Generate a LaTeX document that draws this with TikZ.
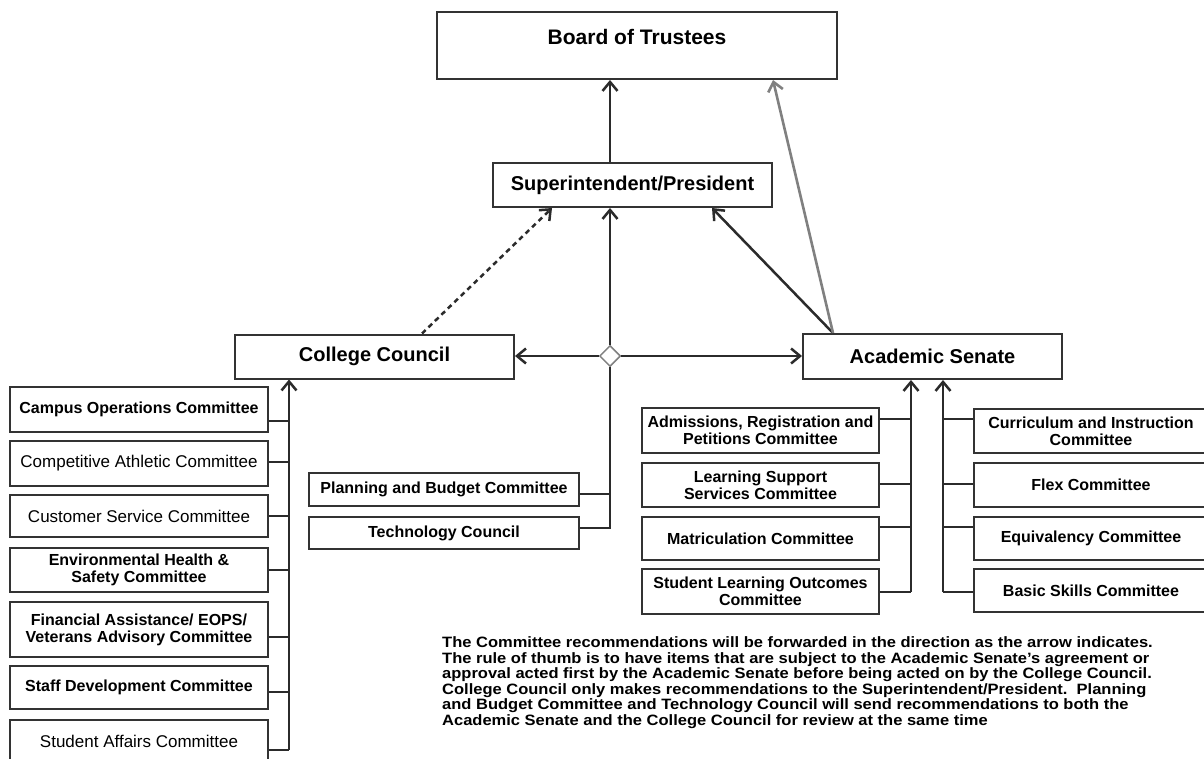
\documentclass[tikz,border=0pt]{standalone}
\usepackage{fontspec}
\setmainfont{Liberation Sans}
\usetikzlibrary{arrows.meta,shapes.geometric}
\definecolor{linec}{HTML}{2B2B2B}
\definecolor{boxc}{HTML}{333333}
\definecolor{grayl}{HTML}{808080}
\begin{document}
\begin{tikzpicture}[x=1pt,y=-1pt,
  conn/.style={line width=2.5pt, draw=linec},
  arr/.style={conn,-{Straight Barb[length=9pt,width=15pt]}},
  grayarr/.style={line width=2.6pt, draw=grayl,-{Straight Barb[length=9pt,width=15pt]}},
  mainbox/.style={draw=boxc,line width=2pt,fill=white,inner sep=2pt,font=\bfseries\fontsize{20}{24}\selectfont},
  boldbox/.style={draw=boxc,line width=2.6pt,fill=white,inner sep=1pt,align=center,font=\bfseries\fontsize{16}{17}\selectfont},
  thinbox/.style={draw=boxc,line width=1.2pt,fill=white,inner sep=1pt,align=center,font=\fontsize{17}{19}\selectfont},
  leftbox/.style={minimum width=258pt},
  asleft/.style={minimum width=237pt},
  asright/.style={minimum width=234pt},
  notetext/.style={anchor=base west,inner sep=0pt,font=\bfseries\fontsize{15}{15.6}\selectfont}
]
\useasboundingbox (0,0) rectangle (1204,759);
\clip (0,0) rectangle (1204,759);
\fill[white] (0,0) rectangle (1204,759);

% main boxes
\node[mainbox, minimum width=400pt, minimum height=67pt, text height=15pt, text depth=17pt, font=\bfseries\fontsize{21}{24}\selectfont] (bot) at (637,45.5) {Board of Trustees};
\node[mainbox, minimum width=279pt, minimum height=44pt] (sup) at (632.5,185) {Superintendent/President};
\node[mainbox, minimum width=279pt, minimum height=44pt] (cc) at (374.5,356.5) {College Council};
\node[mainbox, minimum width=259pt, minimum height=45pt] (as) at (932.5,356.5) {Academic Senate};
\node[diamond, draw=grayl, fill=white, line width=1.5pt, minimum width=21pt, minimum height=21pt, inner sep=0pt] (dia) at (610,356) {};

% left column
\node[boldbox, leftbox, minimum height=45pt] (campus) at (139,409.5) {Campus Operations Committee};
\node[thinbox, leftbox, minimum height=45pt] (compet) at (139,463.5) {Competitive Athletic Committee};
\node[thinbox, leftbox, minimum height=42pt] (cust) at (139,516) {Customer Service Committee};
\node[boldbox, leftbox, minimum height=44pt] (env) at (139,570) {Environmental Health \&\\Safety Committee};
\node[boldbox, leftbox, minimum height=55pt] (fin) at (139,629.5) {Financial Assistance/ EOPS/\\Veterans Advisory Committee};
\node[boldbox, leftbox, minimum height=43pt] (staff) at (139,687.5) {Staff Development Committee};
\node[thinbox, leftbox, minimum height=42pt] (stuaff) at (139,741) {Student Affairs Committee};

% middle
\node[boldbox, minimum width=270pt, minimum height=33pt] (plan) at (444,489.5) {Planning and Budget Committee};
\node[boldbox, minimum width=270pt, minimum height=32pt] (tech) at (444,533) {Technology Council};

% academic senate left
\node[boldbox, asleft, minimum height=45pt] (adm) at (760.5,430.5) {Admissions, Registration and\\Petitions Committee};
\node[boldbox, asleft, minimum height=44pt] (lss) at (760.5,485) {Learning Support\\Services Committee};
\node[boldbox, asleft, minimum height=43pt] (mat) at (760.5,538.5) {Matriculation Committee};
\node[boldbox, asleft, minimum height=45pt] (slo) at (760.5,591.5) {Student Learning Outcomes\\Committee};

% academic senate right
\node[boldbox, asright, minimum height=44pt] (cur) at (1091,431) {Curriculum and Instruction\\Committee};
\node[boldbox, asright, minimum height=44pt] (flex) at (1091,485) {Flex Committee};
\node[boldbox, asright, minimum height=43pt] (equ) at (1091,538.5) {Equivalency Committee};
\node[boldbox, asright, minimum height=43pt] (bas) at (1091,590.5) {Basic Skills Committee};

% left bus
\coordinate (lbus) at (289,0);
\foreach \n/\o in {campus/-11.5, compet/1.5, cust/0, env/0, fin/-7.5, staff/-4.5}{
  \coordinate (t) at ([yshift=\o pt]\n.east);
  \draw[conn] (t) -- (t -| lbus);
}
\coordinate (lbot) at ([yshift=-9pt]stuaff.east);
\draw[conn] (lbot) -- (lbot -| lbus);
\draw[arr] (lbot -| lbus) -- (cc.south -| lbus);

% middle bus
\coordinate (pl) at ([yshift=-4.5pt]plan.east);
\coordinate (te) at ([yshift=5pt]tech.east);
\draw[conn] (pl) -- (pl -| dia);
\draw[conn] (te) -- (te -| dia) -- (dia.south);
\draw[arr] (dia.north) -- (dia |- sup.south);
\draw[arr] (dia.west) -- (cc.east |- dia);
\draw[arr] (dia.east) -- (as.west |- dia);

% academic senate buses
\coordinate (abus) at ([xshift=-21.5pt]as.south);
\coordinate (bbus) at ([xshift=10.5pt]as.south);
\foreach \n/\o in {adm/11.5, lss/1, mat/11.5}{
  \coordinate (t) at ([yshift=\o pt]\n.east);
  \draw[conn] (t) -- (t -| abus);
}
\coordinate (sl) at ([yshift=-0.5pt]slo.east);
\draw[conn] (sl) -- (sl -| abus);
\draw[arr] (sl -| abus) -- (abus);
\foreach \n/\o in {cur/12, flex/1, equ/11.5}{
  \coordinate (t) at ([yshift=\o pt]\n.west);
  \draw[conn] (t) -- (t -| bbus);
}
\coordinate (bs) at ([yshift=-1.5pt]bas.west);
\draw[conn] (bs) -- (bs -| bbus);
\draw[arr] (bs -| bbus) -- (bbus);

% upper connectors
\draw[arr] (sup.north -| dia) -- (bot.south -| dia);
\coordinate (asj) at ([xshift=-99.5pt]as.north);
\draw[arr] (asj) -- ([xshift=79.5pt]sup.south);
\draw[grayarr] (asj) -- ([xshift=136pt]bot.south);
\draw[arr, dash pattern=on 5pt off 4pt] ([xshift=47.5pt]cc.north) -- ([xshift=-80.5pt]sup.south);

% note
\node[notetext] (note) at (442,647.5) {\scalebox{1.1}[1]{\begin{tabular}[t]{@{}l@{}}
The Committee recommendations will be forwarded in the direction as the arrow indicates.\\
The rule of thumb is to have items that are subject to the Academic Senate's agreement or\\
approval acted first by the Academic Senate before being acted on by the College Council.\\
College Council only makes recommendations to the Superintendent/President.\ \ Planning\\
and Budget Committee and Technology Council will send recommendations to both the\\
Academic Senate and the College Council for review at the same time
\end{tabular}}};
\end{tikzpicture}
\end{document}
